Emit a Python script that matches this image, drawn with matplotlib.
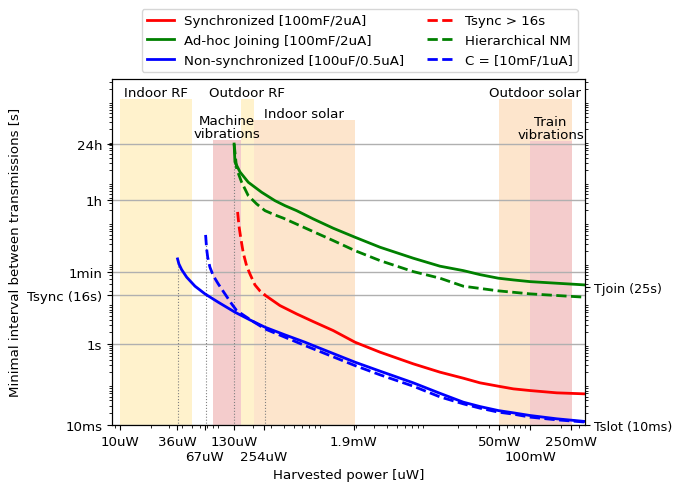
import matplotlib
matplotlib.use("Agg")
import matplotlib.pyplot as plt

plt.rcParams['font.size'] = 9.6

# --- data (power in uW, interval in s) ---
sync_p = [260, 364, 529, 769, 1205, 1963, 3443, 7270, 13240, 22340, 32500, 49100, 68700, 100000, 182000, 344000]
sync_t = [16.0, 8.83, 5.5, 3.55, 2.13, 1.10, 0.624, 0.321, 0.200, 0.142, 0.109, 0.090, 0.0774, 0.0703, 0.0617, 0.0582]

tsync_p = [140.6, 144.9, 151.4, 159.6, 172.2, 185.4, 207.5, 232, 260]
tsync_t = [1816, 820, 391, 176.6, 84.3, 53.5, 28.6, 20.4, 16.0]

adhoc_p = [130, 132.4, 148.3, 178.6, 241, 325, 407, 529, 769, 1205, 1963, 3443, 7270,
           13240, 22340, 32500, 49100, 68700, 100000, 182000, 344000]
adhoc_t = [86400, 31200, 17650, 9840, 5570, 3450, 2600, 1955, 1220, 719, 431, 244, 130.6,
           83, 64.6, 51.4, 41.9, 38.0, 34.5, 31.5, 28.6]

hier_p = [130, 137.7, 153.9, 178.6, 215.6, 260, 325, 392, 769, 1205, 1963, 3443, 7270,
          13240, 22340, 49100, 100000, 344000]
hier_t = [86400, 20940, 9840, 4590, 2864, 1955, 1531, 1277, 593, 356, 201, 114, 61,
          41.9, 26.6, 20.4, 17.2, 14.2]

nonsync_p = [36.5, 37.6, 40.0, 44.8, 54.0, 67.5, 91.0, 132.4, 185.4, 260, 407, 638, 769, 1963, 3443,
             7270, 13240, 22340, 32500, 49100, 68700, 100000, 182000, 344000]
nonsync_t = [125.6, 94.5, 68.3, 44.4, 26.6, 17.2, 10.7, 6.07, 3.91, 2.58, 1.67, 1.10, 0.908, 0.353, 0.212,
             0.109, 0.060, 0.0363, 0.0283, 0.0225, 0.0198, 0.0170, 0.0141, 0.0121]

cap_p = [68.5, 70.1, 71.8, 75.5, 81.3, 91.0, 105.7, 123, 137.7, 192.8, 260, 407, 638, 769, 1963, 3443,
         7270, 13240, 22340, 32500, 49100, 68700, 100000, 182000, 344000]
cap_t = [491, 222, 138, 78.3, 48.6, 30.3, 17.2, 9.72, 6.64, 3.76, 2.34, 1.46, 0.908, 0.753, 0.291, 0.172,
         0.090, 0.049, 0.033, 0.0258, 0.0206, 0.0184, 0.0155, 0.0133, 0.0117]

# harvesting sources: name, power range [uW], top of band [s], colour
source_names = ['Indoor RF', 'Outdoor RF', 'Machine\nvibrations', 'Indoor solar', 'Outdoor solar', 'Train\nvibrations']
source_lo = [10, 151, 81, 202, 49500, 99000]
source_hi = [50, 202, 151, 1963, 255000, 255000]
source_top = [1.12e6, 1.12e6, 1.09e5, 3.4e5, 1.12e6, 1.0e5]
source_col = ['#fff2cc', '#fff2cc', '#f4cccc', '#fde5cc', '#fde5cc', '#f4cccc']

# marker lines: power where a curve starts, and how high the line goes
vline_p = [36.5, 68.5, 130, 260]
vline_t = [125.6, 491, 86400, 16.0]

xtick_vals = [10, 36, 67, 130, 254, 1900, 50000, 100000, 250000]
xtick_labels = ['10uW', '36uW', '67uW', '130uW', '254uW', '1.9mW', '50mW', '100mW', '250mW']
xtick_lower = [2, 4, 7]  # labels pushed to a second row
ytick_vals = [0.01, 1, 16, 60, 3600, 86400]
ytick_labels = ['10ms', '1s', 'Tsync (16s)', '1min', '1h', '24h']
rtick_vals = [0.01, 25]
rtick_labels = ['Tslot (10ms)', 'Tjoin (25s)']

fig = plt.figure(figsize=(6.74, 4.85), dpi=100)
ax = fig.add_axes([0.166, 0.122, 0.702, 0.713])
ax.set_xscale('log')
ax.set_yscale('log')
ax.set_xlim(8.35, 3.44e5)
ax.set_ylim(0.01, 3.49e6)

for name, lo, hi, top, col in zip(source_names, source_lo, source_hi, source_top, source_col):
    ax.fill_between([lo, hi], 1e-4, top, color=col, lw=0, zorder=0.5)
    ax.text((lo * hi) ** 0.5, top, name, ha='center', va='bottom', linespacing=1.0)

for p, t in zip(vline_p, vline_t):
    ax.plot([p, p], [1e-4, t], color='gray', lw=0.8, ls=':', zorder=1.6)

h1, = ax.plot(sync_p, sync_t, color='red', lw=2, label='Synchronized [100mF/2uA]')
h2, = ax.plot(adhoc_p, adhoc_t, color='green', lw=2, label='Ad-hoc Joining [100mF/2uA]')
h3, = ax.plot(nonsync_p, nonsync_t, color='blue', lw=2, label='Non-synchronized [100uF/0.5uA]')
h4, = ax.plot(tsync_p, tsync_t, color='red', lw=2, ls='--', label='Tsync > 16s')
h5, = ax.plot(hier_p, hier_t, color='green', lw=2, ls='--', label='Hierarchical NM')
h6, = ax.plot(cap_p, cap_t, color='blue', lw=2, ls='--', label='C = [10mF/1uA]')

ax.set_xticks(xtick_vals)
ax.set_xticklabels(xtick_labels)
ticks = ax.xaxis.get_major_ticks()
for i in xtick_lower:
    ticks[i].set_pad(14.5)
ax.set_yticks(ytick_vals)
ax.set_yticklabels(ytick_labels)
ax.grid(True, axis='y', which='major', color='#b0b0b0', lw=1)

ax2 = ax.twinx()
ax2.set_yscale('log')
ax2.set_ylim(ax.get_ylim())
ax2.set_yticks(rtick_vals)
ax2.set_yticklabels(rtick_labels, fontsize=9.2)
ax2.tick_params(axis='y', which='major', pad=3)

ax.set_xlabel('Harvested power [uW]')
ax.xaxis.set_label_coords(0.5, -0.125)
ax.set_ylabel('Minimal interval between transmissions [s]')

ax.legend(handles=[h1, h2, h3, h4, h5, h6], ncol=2, loc='lower center',
          bbox_to_anchor=(0.524, 1.02), borderaxespad=0, columnspacing=1.7)

fig.savefig('out.png', dpi=100)
